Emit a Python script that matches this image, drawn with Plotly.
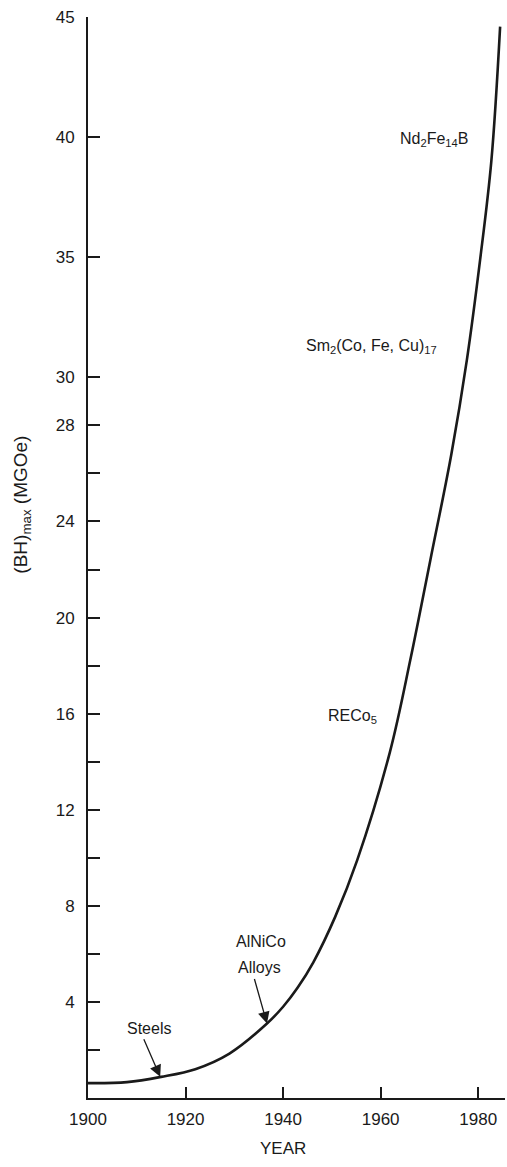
import plotly.graph_objects as go

# Curve data
years = [1900, 1908, 1915, 1922, 1929, 1936.7, 1940.0, 1943.0, 1946.2,
         1950.7, 1955.2, 1961.9, 1966.1, 1970.2, 1974.5, 1977.7, 1980.4, 1982.7, 1984.5]
bhmax = [0.62, 0.66, 0.88, 1.2, 1.85, 3.1, 3.8, 4.6, 5.65,
         7.55, 9.9, 14.4, 18.25, 22.4, 26.8, 30.75, 34.9, 39.0, 44.6]

x_ticks = [1900, 1920, 1940, 1960, 1980]
y_ticks = [2, 4, 6, 8, 10, 12, 14, 16, 18, 20, 22, 24, 26, 28, 30, 35, 40, 45]
y_ticktext = ["", "4", "", "8", "", "12", "", "16", "", "20", "", "24", "", "28", "30", "35", "40", "45"]

# Material labels: (text, year at left edge, value at centre)
labels = [
    ("Nd<sub>2</sub>Fe<sub>14</sub>B", 1963.6, 39.9),
    ("Sm<sub>2</sub>(Co, Fe, Cu)<sub>17</sub>", 1944.3, 31.3),
    ("RECo<sub>5</sub>", 1948.8, 15.9),
    ("AlNiCo", 1930.0, 6.5),
    ("Alloys", 1930.4, 5.45),
    ("Steels", 1907.6, 2.9),
]
# Arrow tips (year, value) and tail offsets (pixels)
arrows = [(1914.8, 0.88, -17, -39), (1936.7, 3.1, -13, -46)]

ink = "#1a1a1a"
font = "Liberation Sans, Arial, Helvetica, sans-serif"

fig = go.Figure()
fig.add_trace(go.Scatter(x=years, y=bhmax, mode="lines",
                         line=dict(color=ink, width=2.6, shape="spline", smoothing=1.0),
                         showlegend=False, hoverinfo="skip"))

anns = []
for t, xv, yv in labels:
    anns.append(dict(text=t, x=xv, y=yv, xref="x", yref="y", xanchor="left",
                     yanchor="middle", showarrow=False,
                     font=dict(family=font, size=16, color=ink)))
for xv, yv, axp, ayp in arrows:
    anns.append(dict(text="", x=xv, y=yv, xref="x", yref="y", ax=axp, ay=ayp,
                     showarrow=True, arrowhead=2, arrowsize=1.8, arrowwidth=1.3,
                     arrowcolor=ink))
# axis titles
anns.append(dict(text="YEAR", x=1940, y=0, xref="x", yref="paper", yanchor="middle",
                 xanchor="center", showarrow=False, yshift=-50,
                 font=dict(family=font, size=17, color=ink)))
anns.append(dict(text="(BH)<sub>max</sub> (MGOe)", x=0, y=24.7, xref="paper", yref="y",
                 xanchor="center", yanchor="middle",
                 xshift=-66, textangle=-90, showarrow=False,
                 font=dict(family=font, size=19, color=ink)))

fig.update_layout(
    width=507, height=1167,
    margin=dict(l=88, r=2, t=17, b=69),
    paper_bgcolor="white", plot_bgcolor="white",
    font=dict(family=font, size=17, color=ink),
    annotations=anns,
    xaxis=dict(range=[1900, 1985.5], tickvals=x_ticks, ticks="inside", ticklen=11,
               tickwidth=1.5, tickcolor=ink, showline=True, linecolor=ink, linewidth=1.8,
               showgrid=False, zeroline=False, ticklabelstandoff=5,
               tickfont=dict(family=font, size=17, color=ink)),
    yaxis=dict(range=[0, 45], tickvals=y_ticks, ticktext=y_ticktext, ticks="inside",
               ticklen=12, tickwidth=1.5, tickcolor=ink, showline=True, linecolor=ink,
               linewidth=1.8, showgrid=False, zeroline=False, ticklabelstandoff=8,
               tickfont=dict(family=font, size=17, color=ink)),
)
fig.write_html("out.html")
